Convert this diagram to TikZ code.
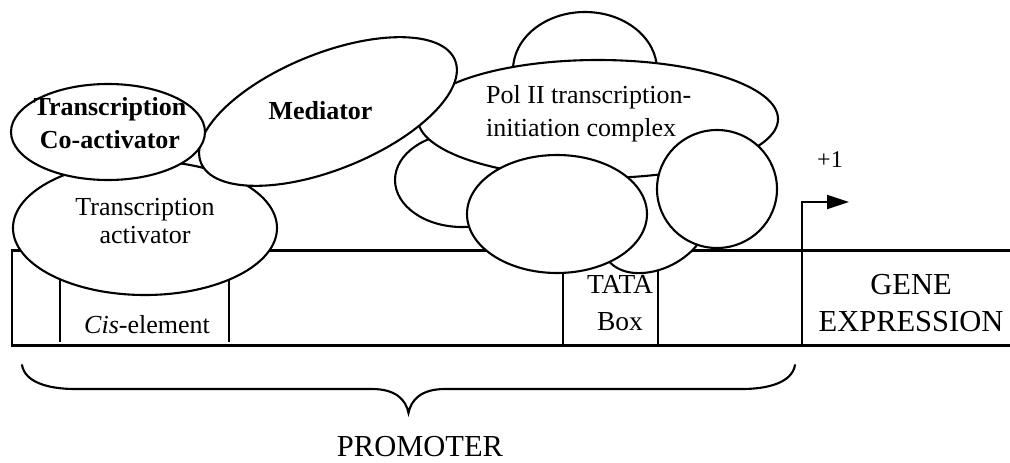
\documentclass[tikz,border=0pt]{standalone}
\usepackage{fontspec}
\setmainfont{Liberation Serif}
\usetikzlibrary{shapes.geometric,arrows.meta}

\tikzset{
  ink/.style={line width=2.1pt, draw=black},
  blob/.style={ellipse, ink, fill=white, inner sep=0pt, outer sep=0pt},
  txt/.style={inner sep=0pt, align=center, font=\fontsize{26}{33}\selectfont},
  bigtxt/.style={inner sep=0pt, align=center, font=\fontsize{30.5}{37}\selectfont},
}

\begin{document}
\begin{tikzpicture}[x=1pt, y=-1pt]
\useasboundingbox (0,0) rectangle (1010,463);

% --- promoter / gene strip ---
\coordinate (tl) at (12,250.5);
\coordinate (bl) at (12,345.5);
\coordinate (tr) at (1010,250.5);
\coordinate (br) at (1010,345.5);
\draw[ink] (tr) -- (tl) -- (bl) -- (br);
\draw[ink] (60,250.5) -- (60,342);
\draw[ink] (229,250.5) -- (229,342);
\draw[ink] (563,250.5) -- (563,345.5);
\draw[ink] (658,250.5) -- (658,345.5);

% --- protein complexes, back to front ---
\node[blob, minimum width=264pt, minimum height=134pt] (act) at (145,228) {};
\node[blob, minimum width=144pt, minimum height=116pt] (dome) at (585,70) {};
\node[blob, minimum width=134pt, minimum height=94pt] (bump) at (462,180) {};
% lower subunit, only its underside shows between the two front globes
\coordinate (lowA) at (598,240);
\coordinate (lowB) at (642,273);
\coordinate (lowC) at (702,238);
\draw[ink, fill=white] (lowA) .. controls (605,268) and (625,274) .. (lowB)
  .. controls (665,272) and (690,258) .. (lowC);
\node[blob, minimum width=360pt, minimum height=118pt] (pol) at (598,119) {};
\node[blob, minimum width=274pt, minimum height=116pt, rotate=22] (med) at (328,111.5) {};
\node[blob, minimum width=194pt, minimum height=96pt] (coact) at (108,132) {};
\node[blob, minimum width=180pt, minimum height=118pt] (mid) at (557,214) {};
\node[blob, minimum width=120pt, minimum height=118pt] (rgt) at (717,189) {};

% --- labels ---
\node[txt, font=\fontsize{26}{33}\selectfont\bfseries] (coactlbl) at (110,123.5) {Transcription\\Co-activator};
\node[txt, font=\fontsize{26}{28}\selectfont] (actlbl) at (145,221) {Transcription\\activator};
\node[txt, font=\fontsize{26}{33}\selectfont\bfseries] (medlbl) at (320.5,111) {Mediator};
\node[txt, align=left, anchor=west] (pollbl) at (486,114) {Pol II transcription-\\initiation complex};
\node[txt] (cislbl) at (147,325) {\textit{Cis}-element};
\node[txt, font=\fontsize{27.5}{37}\selectfont] (tatalbl) at (620,303) {TATA\\Box};
\node[bigtxt] (genelbl) at (911,303) {GENE\\EXPRESSION};

% --- transcription start site ---
\coordinate (tss0) at (802,345.5);
\coordinate (tss1) at (802,202);
\coordinate (tss2) at (849,202);
\draw[ink, -{Triangle[length=22pt, width=14pt]}] (tss0) -- (tss1) -- (tss2);
\node[txt, font=\fontsize{24}{28}\selectfont] (plus) at (830,160) {+1};

% --- promoter brace ---
\coordinate (bL) at (22,365);
\coordinate (bR) at (795,365);
\coordinate (bT) at (408.5,413);
\draw[ink, line cap=round]
  (bL) .. controls (25,383) and (50,389) .. (75,389) -- (372,389)
  .. controls (396,389) and (406,400) .. (bT)
  .. controls (411,400) and (421,389) .. (445,389) -- (742,389)
  .. controls (767,389) and (792,383) .. (bR);
\node[bigtxt] (promlbl) at (420,447) {PROMOTER};
\end{tikzpicture}
\end{document}
